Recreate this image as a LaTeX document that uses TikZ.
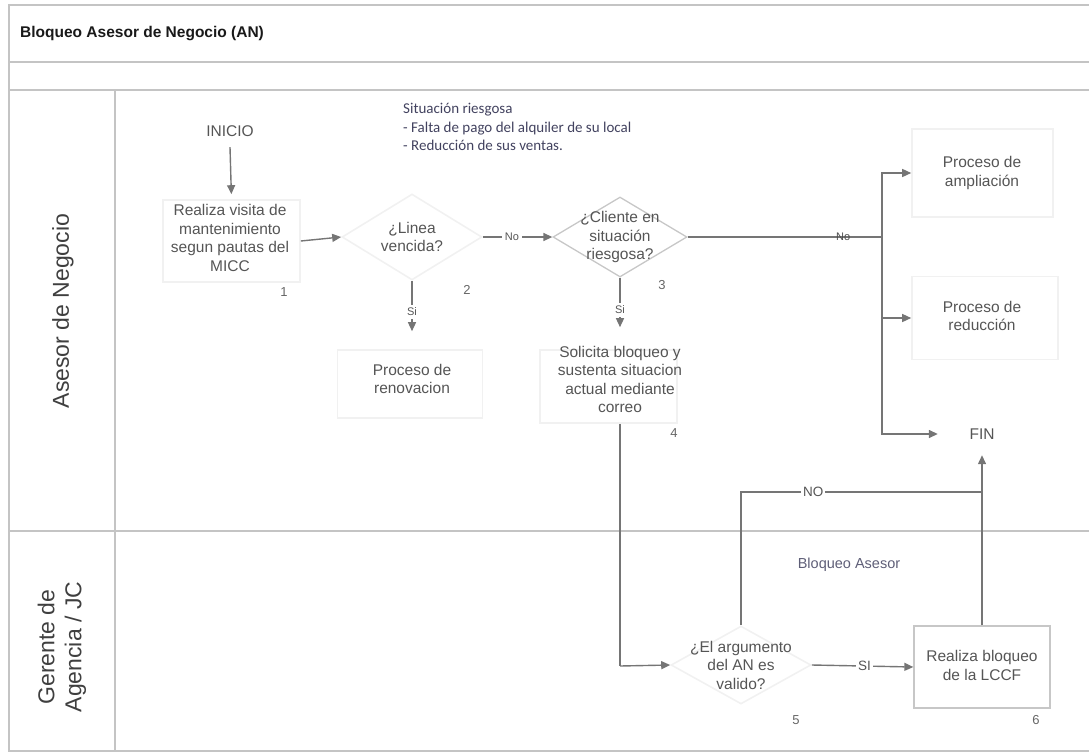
\documentclass[tikz,border=0pt]{standalone}
\usepackage{fontspec}
\setmainfont{Liberation Sans}
\newfontfamily\notefont{Carlito}
\usetikzlibrary{arrows.meta,shapes.geometric}
\definecolor{frame}{HTML}{C4C4C4}
\definecolor{wire}{HTML}{757575}
\definecolor{txt}{HTML}{555555}
\definecolor{ghost}{HTML}{F1F1F1}
\definecolor{note}{HTML}{42425F}
\definecolor{lane}{HTML}{3F3F3F}
\begin{document}
\begin{tikzpicture}[x=1pt,y=-1pt,
  every node/.style={font=\fontsize{15.5}{18.5}\selectfont, text=txt, inner sep=0pt, align=center},
  wireline/.style={draw=wire, line width=1.4pt},
  arr/.style={wireline, -{Triangle[length=9pt,width=8pt]}},
  ghostbox/.style={draw=ghost, line width=1.6pt, rectangle},
  ghostdia/.style={draw=ghost, line width=1.6pt, diamond},
  num/.style={font=\fontsize{13}{15}\selectfont, text=txt!90},
  small/.style={font=\fontsize{11}{13}\selectfont, text=txt},
  big/.style={font=\fontsize{13.5}{15}\selectfont, text=txt},
  lanelabel/.style={rotate=90, font=\fontsize{23}{27}\selectfont, text=lane}]

\useasboundingbox (0,0) rectangle (1089,755);

% frame and swimlanes
\draw[frame, line width=1.2pt] (1089,5) -- (9,5) -- (9,751) -- (1089,751);
\draw[frame, line width=1.2pt] (9,62) -- (1089,62);
\draw[frame, line width=1.2pt] (9,90) -- (1089,90);
\draw[frame, line width=1.2pt] (115,90) -- (115,751);
\draw[frame, line width=1.2pt] (9,531) -- (1089,531);

\node[anchor=west, font=\bfseries\fontsize{15.5}{18}\selectfont, text=black!90] (title) at (20,34) {Bloqueo Asesor de Negocio (AN)};

\node[lanelabel] (laneA) at (63,311) {Asesor de Negocio};
\node[lanelabel] (laneB) at (62,647) {Gerente de\\Agencia / JC};

% note on the risk situation
\node[anchor=north west, align=left, font=\notefont\fontsize{15}{18.5}\selectfont, text=note] (risk) at (403,103)
  {Situación riesgosa\\- Falta de pago del alquiler de su local\\- Reducción de sus ventas.};

% process steps
\node[minimum width=60pt, minimum height=32pt] (inicio) at (230,131) {INICIO};
\node[ghostbox, minimum width=137pt, minimum height=82pt] (n1) at (231.5,241) {};
\node (n1t) at (230,238) {Realiza visita de\\mantenimiento\\segun pautas del\\MICC};
\node[num] (k1) at (284,292) {1};

\node[ghostdia, minimum width=140pt, minimum height=86pt] (n2) at (412,237) {};
\node (n2t) at (412,237) {¿Linea\\vencida?};
\node[num] (k2) at (467,290) {2};

\node[diamond, draw=black!22, line width=1.3pt, minimum width=134pt, minimum height=80pt] (n3) at (620,237) {};
\node (n3t) at (620,237) {¿Cliente en\\situación\\riesgosa?};
\node[num] (k3) at (662,285) {3};

\node[ghostbox, minimum width=145pt, minimum height=68pt] (ren) at (410,384) {};
\node (rent) at (412,379) {Proceso de\\renovacion};

\node[ghostbox, minimum width=137pt, minimum height=73pt] (n4) at (608.5,386.5) {};
\node (n4t) at (620,379.5) {Solicita bloqueo y\\sustenta situacion\\actual mediante\\correo};
\node[num] (k4) at (674,433) {4};

\node[ghostbox, minimum width=141pt, minimum height=88pt] (amp) at (982.5,173) {};
\node (ampt) at (982,173) {Proceso de\\ampliación};

\node[ghostbox, minimum width=146pt, minimum height=83pt] (red) at (985,318) {};
\node (redt) at (982,316) {Proceso de\\reducción};

\node[minimum width=88pt, minimum height=42pt] (fin) at (982,434) {FIN};

\node[font=\fontsize{14.5}{17}\selectfont, text=note!85] (bloq) at (849,565) {Bloqueo Asesor};

\node[ghostdia, minimum width=140pt, minimum height=78pt] (n5) at (741,665) {};
\node (n5t) at (741,665) {¿El argumento\\del AN es\\valido?};
\node[num] (k5) at (796,720) {5};

\node[draw=black!22, line width=1.3pt, minimum width=136pt, minimum height=82pt] (n6) at (982,667) {};
\node (n6t) at (982,665.5) {Realiza bloqueo\\de la LCCF};
\node[num] (k6) at (1036,720) {6};

% junction points
\coordinate (jr) at (882,237);
\coordinate (jn) at (982,492);
\coordinate (jd) at (620,666);

% connectors
\draw[arr, shorten >=5pt] (inicio.south) -- (n1.north);
\draw[arr] (n1.east) -- (n2.west);
\draw[arr] (n2.east) -- node[small, fill=white, inner xsep=3pt, pos=.42]{No} (n3.west);
\draw[arr, shorten >=18pt] (n2.south) -- node[small, fill=white, inner ysep=3pt, pos=.45]{Si} (n2.south |- ren.north);
\draw[arr, shorten >=22pt] (n3.south) -- node[small, fill=white, inner ysep=3pt, pos=.45]{Si} (n3.south |- n4.north);

\draw[wireline] (n3.east) -- node[small, text=black!70, pos=.8]{No} (jr);
\draw[arr] (jr) |- (amp.west);
\draw[arr] (jr) |- (red.west);
\draw[arr] (jr) |- (fin.west);

\draw[wireline] (n4.south -| n4t.center) -- (jd);
\draw[arr] (jd) -- (n5.west);
\draw[arr] (n5.east) -- node[big, fill=white, inner xsep=2pt, pos=.52]{SI} (n6.west);
\draw[arr] (n6.north) -- (fin.south);
\draw[wireline] (n5.north) |- node[big, fill=white, inner xsep=2pt, pos=.65]{NO} (jn);

\end{tikzpicture}
\end{document}
